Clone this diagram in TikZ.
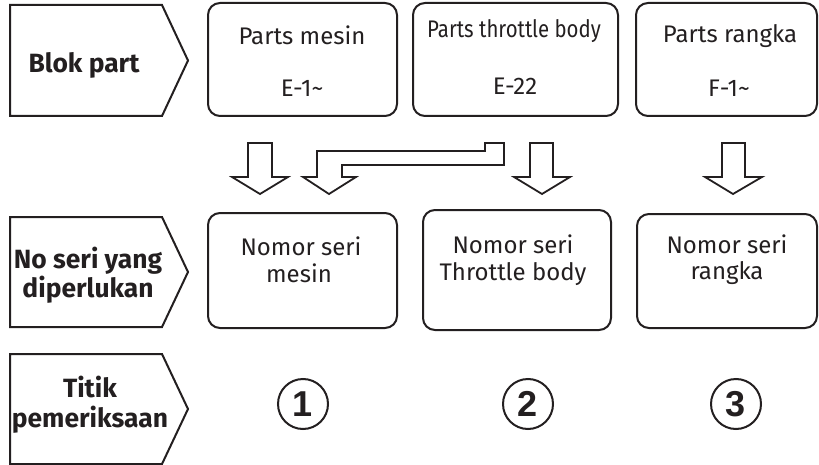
\documentclass[tikz,border=0pt]{standalone}
\usepackage{fontspec}
\setmainfont{Fira Sans}
\newfontfamily\numfont{Liberation Sans}
\usepackage{xcolor}
\usetikzlibrary{positioning,shapes}

\definecolor{ink}{HTML}{231F20}

\tikzset{
    partbox/.style={draw=ink, line width=1pt, rounded corners=6pt, inner sep=0pt},
    tagshape/.style={draw=ink, line width=1pt, line join=miter},
    blockarrow/.style={draw=ink, line width=0.9pt, fill=white, line join=miter},
    boxtext/.style={anchor=base, text=ink, inner sep=0pt, font=\fontsize{12}{14}\selectfont},
    tagtext/.style={anchor=base, text=ink, inner sep=0pt, font=\fontsize{13.2}{15}\selectfont\bfseries},
    checkpoint/.style={draw=ink, circle, line width=1pt, minimum size=25pt, inner sep=0pt,
        text=ink, font=\numfont\fontsize{18}{18}\selectfont\bfseries}
}

\begin{document}
\begin{tikzpicture}[x=0.5pt, y=-0.5pt]
    \useasboundingbox (0,0) rectangle (819,465);

    % Row tags (pentagon shapes)
    \foreach \ya/\yb in {5/116, 217/327, 354/464} {
        \draw[tagshape] (10,\ya) -- (162,\ya) -- (188,{(\ya+\yb)/2}) -- (162,\yb) -- (10,\yb) -- cycle;
    }
    \node[tagtext] (tagpart) at (84,73) {Blok part};
    \node[tagtext] (tagnoa) at (88,268) {No seri yang};
    \node[tagtext] (tagnob) at (88,297) {diperlukan};
    \node[tagtext] (tagcka) at (90,397) {Titik};
    \node[tagtext] (tagckb) at (90,427) {pemeriksaan};

    % Part blocks
    \node[partbox, minimum width=94.5pt, minimum height=56.5pt] (mesin) at (302.5,59.5) {};
    \node[partbox, minimum width=102.5pt, minimum height=56.5pt] (throttle) at (515.5,59.5) {};
    \node[partbox, minimum width=90.5pt, minimum height=56.5pt] (rangka) at (726.5,59.5) {};
    \node[boxtext] (mesinname) at (302,45) {Parts mesin};
    \node[boxtext] (mesincode) at (302,97) {E-1\textasciitilde};
    \node[boxtext] (throttlename) at (514,38) {\scalebox{0.85}[1]{Parts throttle body}};
    \node[boxtext] (throttlecode) at (515,95) {E-22};
    \node[boxtext] (rangkaname) at (730,43) {Parts rangka};
    \node[boxtext] (rangkacode) at (729,97) {F-1\textasciitilde};

    % Serial number blocks
    \node[partbox, minimum width=94.5pt, minimum height=57.5pt] (nomesin) at (302.5,270.5) {};
    \node[partbox, minimum width=94pt, minimum height=60pt] (nothrottle) at (517,270) {};
    \node[partbox, minimum width=90pt, minimum height=57pt] (norangka) at (727,271) {};
    \node[boxtext] (nomesina) at (301,255) {Nomor seri};
    \node[boxtext] (nomesinb) at (299,282) {mesin};
    \node[boxtext] (nothrottlea) at (513,253) {Nomor seri};
    \node[boxtext] (nothrottleb) at (513,280) {Throttle body};
    \node[boxtext] (norangkaa) at (727,253) {Nomor seri};
    \node[boxtext] (norangkab) at (727,279) {rangka};

    % Block arrows
    \draw[blockarrow] (248,143) -- (272,143) -- (272,177) -- (288,177) -- (260,194)
        -- (232,177) -- (248,177) -- cycle;
    \draw[blockarrow] (317,151) -- (485,151) -- (485,143) -- (504,143) -- (504,165)
        -- (342,165) -- (342,177) -- (356,177) -- (329,194) -- (303,177) -- (317,177) -- cycle;
    \draw[blockarrow] (530,143) -- (553,143) -- (553,177) -- (570,177) -- (542,194)
        -- (514,177) -- (530,177) -- cycle;
    \draw[blockarrow] (722,143) -- (745,143) -- (745,177) -- (762,177) -- (733,194)
        -- (705,177) -- (722,177) -- cycle;

    % Check points
    \node[checkpoint] (check1) at (303,404) {1};
    \node[checkpoint] (check2) at (528,404) {2};
    \node[checkpoint] (check3) at (736,404) {3};
\end{tikzpicture}
\end{document}
